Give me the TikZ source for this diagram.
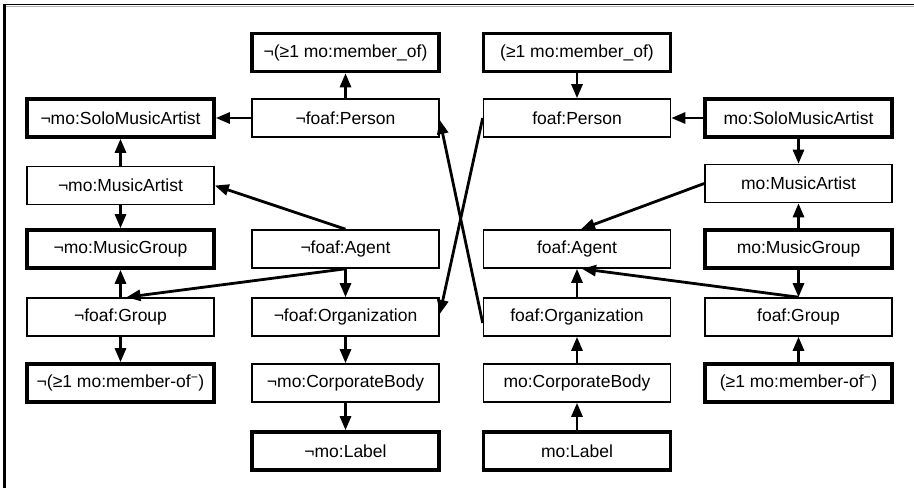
\documentclass[tikz,border=0pt]{standalone}
\usepackage{fontspec}
\setmainfont{Liberation Sans}
\usetikzlibrary{arrows.meta}
\newcommand{\NOT}{¬}
\newcommand{\GEQ}{≥}
\newcommand{\INV}{\textsuperscript{−}}
\tikzset{
  box/.style={draw=black, line width=1.6pt, fill=white, minimum width=187pt, minimum height=38pt, inner sep=0pt, font=\fontsize{17.5}{20}\selectfont},
  thickbox/.style={box, line width=3.6pt},
  arr/.style={line width=2.8pt, -{Triangle[length=14pt,width=11pt]}},
}
\begin{document}
\begin{tikzpicture}[x=1pt, y=-1pt]
\useasboundingbox (0,0) rectangle (914,488);
% frame (top and left only)
\draw[gray!60, line width=1pt] (4,6.3) -- (914,6.3);
\draw[black, line width=1.8pt] (3,4.4) -- (914,4.4);
\draw[black, line width=2.6pt] (4.5,3.5) -- (4.5,488);
% left half
\node[thickbox] (nMemberOf) at (345.5,52.5) {\NOT(\GEQ1 mo:member\_of)};
\node[thickbox] (nSolo) at (120.5,118) {\NOT mo:SoloMusicArtist};
\node[box] (nPerson) at (345.5,118) {\NOT foaf:Person};
\node[box] (nMusicArtist) at (120.5,185.5) {\NOT mo:MusicArtist};
\node[thickbox] (nMusicGroup) at (120.5,249) {\NOT mo:MusicGroup};
\node[box] (nAgent) at (345.5,249) {\NOT foaf:Agent};
\node[box] (nGroup) at (120.5,317) {\NOT foaf:Group};
\node[box] (nOrg) at (345.5,317) {\NOT foaf:Organization};
\node[thickbox] (nMemberOfInv) at (120.5,383) {\NOT(\GEQ1 mo:member-of\INV)};
\node[box] (nCorp) at (345.5,383) {\NOT mo:CorporateBody};
\node[thickbox] (nLabel) at (345.5,451) {\NOT mo:Label};
% right half
\node[thickbox] (pMemberOf) at (577,52.5) {(\GEQ1 mo:member\_of)};
\node[box] (pPerson) at (577,118) {foaf:Person};
\node[thickbox] (pSolo) at (798.5,118) {mo:SoloMusicArtist};
\node[box] (pMusicArtist) at (798.5,183.5) {mo:MusicArtist};
\node[box] (pAgent) at (577,249) {foaf:Agent};
\node[thickbox] (pMusicGroup) at (798.5,249) {mo:MusicGroup};
\node[box] (pOrg) at (577,317) {foaf:Organization};
\node[box] (pGroup) at (798.5,317) {foaf:Group};
\node[box] (pCorp) at (577,383) {mo:CorporateBody};
\node[thickbox] (pMemberOfInv) at (798.5,383) {(\GEQ1 mo:member-of\INV)};
\node[thickbox] (pLabel) at (577,451) {mo:Label};
% left edges
\draw[arr] (nPerson) -- (nMemberOf);
\draw[arr] (nPerson) -- (nSolo);
\draw[arr] (nMusicArtist) -- (nSolo);
\draw[arr] (nMusicArtist) -- (nMusicGroup);
\draw[arr] (nAgent.north) -- (nMusicArtist.east);
\draw[arr] (nGroup) -- (nMusicGroup);
\draw[arr] (nAgent.south) -- ([xshift=6pt]nGroup.north);
\draw[arr] (nAgent) -- (nOrg);
\draw[arr] (nGroup) -- (nMemberOfInv);
\draw[arr] (nOrg) -- (nCorp);
\draw[arr] (nCorp) -- (nLabel);
% crossing edges
\draw[arr] ([yshift=-6pt]pOrg.west) -- ([yshift=-2pt]nPerson.east);
\draw[arr] (pPerson.west) -- ([yshift=3pt]nOrg.east);
% right edges
\draw[arr] (pMemberOf) -- (pPerson);
\draw[arr] (pSolo) -- (pPerson);
\draw[arr] (pSolo) -- (pMusicArtist);
\draw[arr] (pMusicArtist.west) -- ([xshift=4pt]pAgent.north);
\draw[arr] (pMusicGroup) -- (pMusicArtist);
\draw[arr] (pMusicGroup) -- (pGroup);
\draw[arr] (pGroup.north) -- ([xshift=5pt]pAgent.south);
\draw[arr] (pOrg) -- (pAgent);
\draw[arr] (pCorp) -- (pOrg);
\draw[arr] (pLabel) -- (pCorp);
\draw[arr] (pMemberOfInv) -- (pGroup);
\end{tikzpicture}
\end{document}
